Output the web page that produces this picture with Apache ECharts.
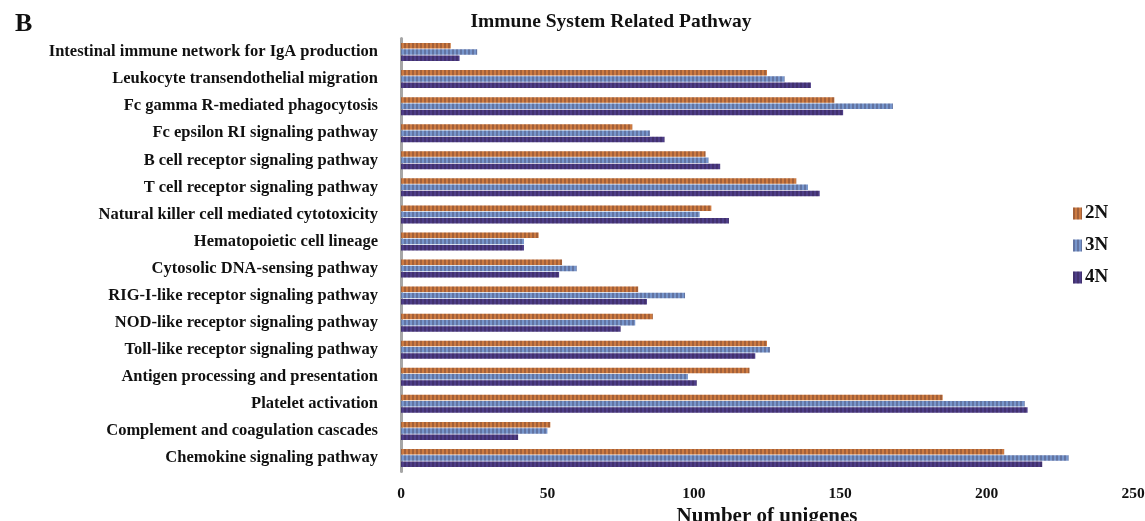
<!DOCTYPE html>
<html>
<head>
<meta charset="utf-8">
<script src="https://cdn.jsdelivr.net/npm/echarts@6/dist/echarts.min.js"></script>
<style>
  html, body { margin: 0; padding: 0; background: #fff; }
  #chart { width: 1145px; height: 521px; }
</style>
</head>
<body>
<div id="chart"></div>
<script>
// Immune-system pathways, listed top to bottom
const pathways = [
  'Intestinal immune network for IgA production',
  'Leukocyte transendothelial migration',
  'Fc gamma R-mediated phagocytosis',
  'Fc epsilon RI signaling pathway',
  'B cell receptor signaling pathway',
  'T cell receptor signaling pathway',
  'Natural killer cell mediated cytotoxicity',
  'Hematopoietic cell lineage',
  'Cytosolic DNA-sensing pathway',
  'RIG-I-like receptor signaling pathway',
  'NOD-like receptor signaling pathway',
  'Toll-like receptor signaling pathway',
  'Antigen processing and presentation',
  'Platelet activation',
  'Complement and coagulation cascades',
  'Chemokine signaling pathway'
];

// Number of unigenes per ploidy level
const values2N = [17, 125, 148, 79, 104, 135, 106, 47, 55, 81, 86, 125, 119, 185, 51, 206];
const values3N = [26, 131, 168, 85, 105, 139, 102, 42, 60, 97, 80, 126, 98, 213, 50, 228];
const values4N = [20, 140, 151, 90, 109, 143, 112, 42, 54, 84, 75, 121, 101, 214, 40, 219];

const seriesNames = ['2N', '3N', '4N'];
const xTicks = [0, 50, 100, 150, 200, 250];

const serif = '"Liberation Serif", "DejaVu Serif", serif';
const colors = ['#cd7b42', '#7896cc', '#4e3e88'];
// darker vertical stripes laid over each bar
const stripe = {
  symbol: 'rect',
  symbolSize: 1,
  color: 'rgba(30, 10, 30, 0.24)',
  dashArrayX: [1.5, 1.5],
  dashArrayY: [1, 0],
  rotation: 0
};

const chart = echarts.init(document.getElementById('chart'), null, { renderer: 'canvas' });

function barSeries(name, data, color) {
  return {
    name: name,
    type: 'bar',
    data: data,
    barWidth: 5.5,
    barGap: '14%',
    itemStyle: { color: color, decal: stripe },
    emphasis: { disabled: true }
  };
}

chart.setOption({
  animation: false,
  aria: { enabled: false },
  title: [
    {
      text: 'Immune System Related Pathway',
      left: 606, top: 7,
      textAlign: 'center',
      textStyle: { fontFamily: serif, fontWeight: 'bold', fontSize: 19.5, color: '#111' }
    },
    {
      text: 'B',
      left: 10, top: 6,
      textStyle: { fontFamily: serif, fontWeight: 'bold', fontSize: 26, color: '#111' }
    }
  ],
  legend: {
    orient: 'vertical',
    left: 1068, top: 199,
    itemGap: 13,
    itemWidth: 9, itemHeight: 12,
    icon: 'rect',
    data: seriesNames,
    textStyle: { fontFamily: serif, fontWeight: 'bold', fontSize: 19, color: '#111', padding: [0, 0, 0, -2] }
  },
  grid: {
    left: 401, right: 12, top: 38.5, bottom: 49.5,
    containLabel: false,
    outerBoundsMode: 'none'
  },
  xAxis: {
    type: 'value',
    min: xTicks[0], max: xTicks[xTicks.length - 1], interval: 50,
    name: 'Number of unigenes',
    nameLocation: 'middle',
    nameGap: 27,
    nameTextStyle: { fontFamily: serif, fontWeight: 'bold', fontSize: 21, color: '#111' },
    axisLine: { show: false },
    axisTick: { show: false },
    splitLine: { show: false },
    axisLabel: { fontFamily: serif, fontWeight: 'bold', fontSize: 15.5, color: '#111', margin: 14 }
  },
  yAxis: {
    type: 'category',
    data: pathways,
    inverse: true,
    axisLine: { show: true, lineStyle: { color: '#a6a6a6', width: 3 } },
    axisTick: { show: false },
    axisLabel: { fontFamily: serif, fontWeight: 'bold', fontSize: 16.5, color: '#111', margin: 23 }
  },
  series: [
    barSeries(seriesNames[0], values2N, colors[0]),
    barSeries(seriesNames[1], values3N, colors[1]),
    barSeries(seriesNames[2], values4N, colors[2])
  ]
});
</script>
</body>
</html>
